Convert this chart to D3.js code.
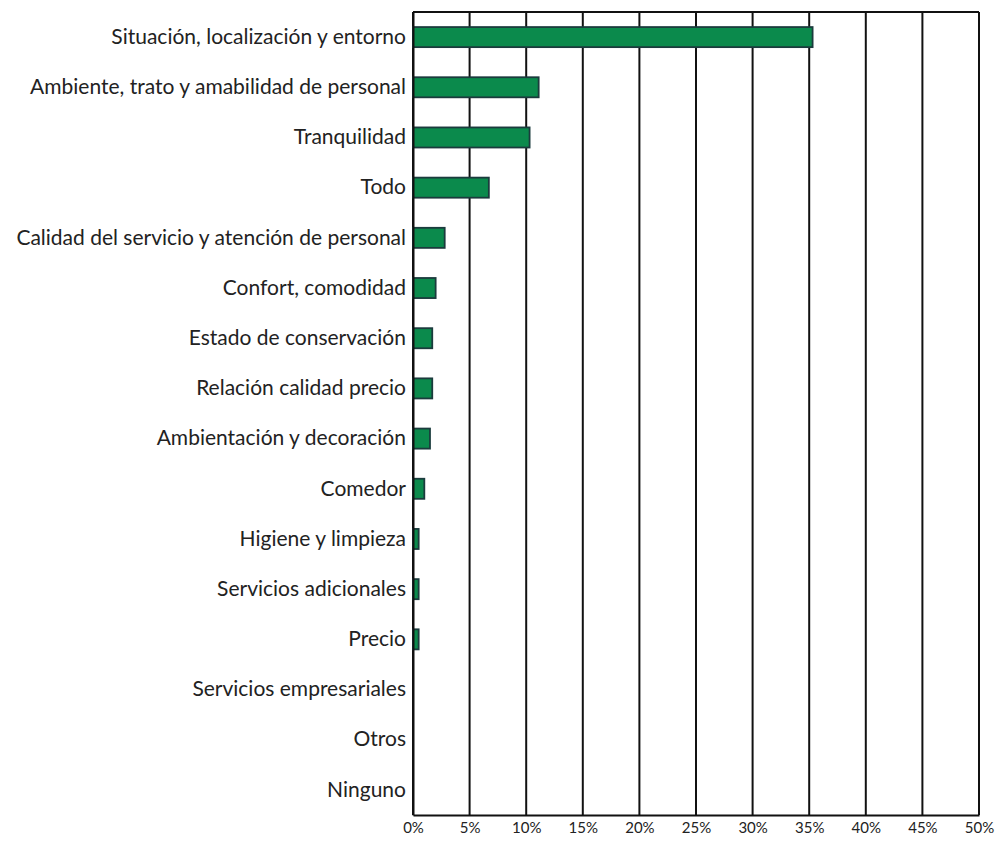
<html>
<head>
<meta charset="utf-8">
<script src="https://d3js.org/d3.v7.min.js"></script>
<style>
  body { margin: 0; background: #fff; }
  text { font-family: Lato, "Open Sans", sans-serif; fill: #222; }
</style>
</head>
<body>
<svg id="chart" width="1000" height="848"></svg>
<script>
var categories = ["Situación, localización y entorno", "Ambiente, trato y amabilidad de personal",
  "Tranquilidad", "Todo", "Calidad del servicio y atención de personal", "Confort, comodidad",
  "Estado de conservación", "Relación calidad precio", "Ambientación y decoración", "Comedor",
  "Higiene y limpieza", "Servicios adicionales", "Precio", "Servicios empresariales", "Otros", "Ninguno"];
var values = [35.3, 11.1, 10.3, 6.7, 2.8, 2.0, 1.7, 1.7, 1.5, 1.0, 0.5, 0.5, 0.5, 0, 0, 0];
var ticks = [0, 5, 10, 15, 20, 25, 30, 35, 40, 45, 50];

var plotLeft = 413, plotRight = 979, plotTop = 12, plotBottom = 815;
var svg = d3.select("#chart");

var x = d3.scaleLinear().domain([0, 50]).range([plotLeft, plotRight]);
var y = d3.scaleBand().domain(categories).range([plotTop, plotBottom]).paddingInner(0.6).paddingOuter(0.3);

var rows = categories.map(function(c, i) { return { name: c, value: values[i] }; });

// gridlines
svg.append("g").selectAll("line").data(ticks).enter().append("line")
  .attr("x1", d => x(d)).attr("x2", d => x(d))
  .attr("y1", plotTop).attr("y2", plotBottom)
  .attr("stroke", "#111").attr("stroke-width", 2);
svg.append("line").attr("x1", plotLeft).attr("x2", plotRight).attr("y1", plotTop).attr("y2", plotTop)
  .attr("stroke", "#111").attr("stroke-width", 2);

// bars
svg.append("g").selectAll("rect").data(rows.filter(d => d.value > 0)).enter().append("rect")
  .attr("x", x(0))
  .attr("y", d => y(d.name))
  .attr("width", d => x(d.value) - x(0))
  .attr("height", y.bandwidth())
  .attr("fill", "#0b8a4c").attr("stroke", "#1b3b3d").attr("stroke-width", 1.8);

// bottom axis
var xAxis = d3.axisBottom(x).tickValues(ticks).tickSize(0).tickPadding(7)
  .tickFormat(d => d + "%");
var gx = svg.append("g").attr("transform", "translate(0," + plotBottom + ")").call(xAxis);
gx.select(".domain").attr("stroke", "#111").attr("stroke-width", 2);
gx.selectAll("text").style("font-size", "15px").attr("fill", "#222");

// left labels
var yAxis = d3.axisLeft(y).tickSize(0).tickPadding(7);
var gy = svg.append("g").attr("transform", "translate(" + plotLeft + ",0)").call(yAxis);
gy.select(".domain").attr("stroke", "#111").attr("stroke-width", 2);
gy.selectAll("text").style("font-size", "21px").attr("fill", "#222");
</script>
</body>
</html>
